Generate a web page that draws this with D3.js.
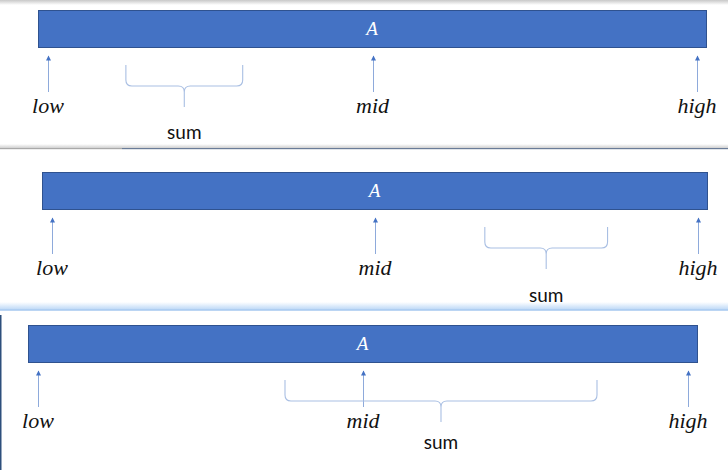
<!DOCTYPE html>
<html>
<head>
<meta charset="utf-8">
<script src="https://cdn.jsdelivr.net/npm/d3@7"></script>
<style>
  html, body { margin: 0; padding: 0; background: #fff; }
  svg { display: block; }
</style>
</head>
<body>
<svg id="chart" width="728" height="470"></svg>
<script>
// positions along the array A, 0 = first element, 100 = last
const pointLabels = ['low', 'mid', 'high']
const pointValues = [0, 50, 100]
const sumStart = [12, 67, 38]
const sumEnd = [30, 86, 86]

// where each of the three screenshot panels sits
const panelLayout = [
  { x0: 38, x1: 706, y0: 10, sumDy: 129 },
  { x0: 42, x1: 707, y0: 172, sumDy: 130 },
  { x0: 28, x1: 697, y0: 325, sumDy: 124 }
]

const svg = d3.select('#chart')
const defs = svg.append('defs')

// small filled arrowhead, drawn along +x so orient=auto points it up the line
defs.append('marker')
  .attr('id', 'tip')
  .attr('viewBox', '0 0 10 10')
  .attr('refX', 9).attr('refY', 5)
  .attr('markerWidth', 6).attr('markerHeight', 5)
  .attr('markerUnits', 'userSpaceOnUse')
  .attr('orient', 'auto')
  .append('path')
  .attr('d', 'M0,0 L10,5 L0,10 Z')
  .attr('fill', '#4472c4')

var g1 = defs.append('linearGradient').attr('id', 'topShade')
  .attr('x1', 0).attr('y1', 0).attr('x2', 0).attr('y2', 1)
g1.append('stop').attr('offset', 0).attr('stop-color', '#c8c8c8')
g1.append('stop').attr('offset', 1).attr('stop-color', '#ffffff')

var g2 = defs.append('linearGradient').attr('id', 'glow')
  .attr('x1', 0).attr('y1', 0).attr('x2', 0).attr('y2', 1)
g2.append('stop').attr('offset', 0).attr('stop-color', '#ffffff')
g2.append('stop').attr('offset', 1).attr('stop-color', '#b9d6f6')

var g3 = defs.append('linearGradient').attr('id', 'bottomShade')
  .attr('x1', 0).attr('y1', 0).attr('x2', 0).attr('y2', 1)
g3.append('stop').attr('offset', 0).attr('stop-color', '#ffffff')
g3.append('stop').attr('offset', 1).attr('stop-color', '#d0d0d0')

// screenshot edges between the panels
svg.append('rect').attr('x', 0).attr('y', 0).attr('width', 728).attr('height', 5)
  .attr('fill', 'url(#topShade)')
svg.append('rect').attr('x', 0).attr('y', 144).attr('width', 728).attr('height', 4)
  .attr('fill', 'url(#bottomShade)')
svg.append('rect').attr('x', 0).attr('y', 148).attr('width', 122).attr('height', 1.2)
  .attr('fill', '#a9a9a9')
svg.append('rect').attr('x', 122).attr('y', 148).attr('width', 606).attr('height', 1.2)
  .attr('fill', '#6a7c98')
svg.append('rect').attr('x', 0).attr('y', 302).attr('width', 728).attr('height', 8)
  .attr('fill', 'url(#glow)')
svg.append('rect').attr('x', 0).attr('y', 309.5).attr('width', 728).attr('height', 1.2)
  .attr('fill', '#9fc4ee')
svg.append('rect').attr('x', 0).attr('y', 315).attr('width', 1.5).attr('height', 155)
  .attr('fill', '#2d4f7c')

function bracePath (a, b, top, mid, tip) {
  var c = (a + b) / 2
  var r = 6
  var p = d3.path()
  p.moveTo(a, top)
  p.lineTo(a, mid - r)
  p.quadraticCurveTo(a, mid, a + r, mid)
  p.lineTo(c - r, mid)
  p.quadraticCurveTo(c, mid, c, mid + r)
  p.lineTo(c, tip)
  p.moveTo(b, top)
  p.lineTo(b, mid - r)
  p.quadraticCurveTo(b, mid, b - r, mid)
  p.lineTo(c + r, mid)
  p.quadraticCurveTo(c, mid, c, mid + r)
  return p.toString()
}

panelLayout.forEach(function (lay, i) {
  var x = d3.scaleLinear().domain([0, 100]).range([lay.x0 + 10, lay.x1 - 9])
  var y0 = lay.y0
  var g = svg.append('g')

  g.append('rect')
    .attr('x', lay.x0 + 0.5).attr('y', y0 + 0.5)
    .attr('width', lay.x1 - lay.x0).attr('height', 37)
    .attr('fill', '#4472c4')
    .attr('stroke', '#2f528f').attr('stroke-width', 1)

  g.append('text')
    .attr('x', (lay.x0 + lay.x1) / 2).attr('y', y0 + 25)
    .attr('text-anchor', 'middle')
    .attr('font-family', 'Liberation Serif, serif')
    .attr('font-style', 'italic')
    .attr('font-size', 19)
    .attr('fill', '#fff')
    .text('A')

  g.selectAll('line.arrow')
    .data(pointValues)
    .enter().append('line')
    .attr('class', 'arrow')
    .attr('x1', function (d) { return Math.round(x(d)) + 0.5 })
    .attr('x2', function (d) { return Math.round(x(d)) + 0.5 })
    .attr('y1', y0 + 82).attr('y2', y0 + 46)
    .attr('stroke', '#8eaadb').attr('stroke-width', 1)
    .attr('marker-end', 'url(#tip)')

  g.selectAll('text.pt')
    .data(pointValues)
    .enter().append('text')
    .attr('class', 'pt')
    .attr('x', function (d) { return x(d) })
    .attr('y', y0 + 103)
    .attr('text-anchor', 'middle')
    .attr('font-family', 'Liberation Serif, serif')
    .attr('font-style', 'italic')
    .attr('font-size', 22)
    .attr('fill', '#111')
    .text(function (d, j) { return pointLabels[j] })

  var a = x(sumStart[i])
  var b = x(sumEnd[i])
  g.append('path')
    .attr('d', bracePath(a, b, y0 + 55, y0 + 76, y0 + 97))
    .attr('fill', 'none')
    .attr('stroke', '#a9bfe3').attr('stroke-width', 1.1)

  g.append('text')
    .attr('x', (a + b) / 2).attr('y', y0 + lay.sumDy)
    .attr('text-anchor', 'middle')
    .attr('font-family', 'Lato, sans-serif')
    .attr('font-size', 19)
    .attr('fill', '#111')
    .text('sum')
})
</script>
</body>
</html>
